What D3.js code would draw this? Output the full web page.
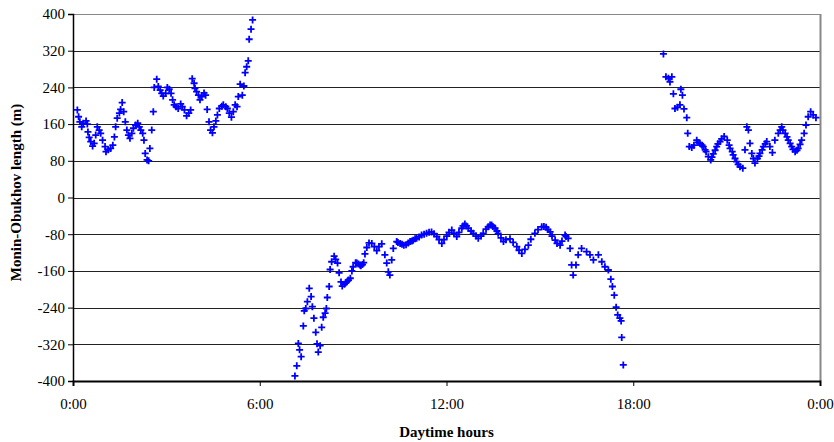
<!DOCTYPE html>
<html>
<head>
<meta charset="utf-8">
<script src="https://cdn.jsdelivr.net/npm/d3@7"></script>
<style>
    body { margin: 0; background: #fff; }
    text { font-family: "Liberation Serif", "Times New Roman", serif; }
</style>
</head>
<body>
<div id="graph-container"></div>
<script>
// Hours of day (decimal) and Monin-Obukhov length (m)
const nightHours = [0.14, 0.18, 0.22, 0.28, 0.33, 0.42, 0.46, 0.48, 0.52, 0.57, 0.63, 0.68, 0.73, 0.78, 0.84, 0.89, 0.95, 1.03, 1.06, 1.13,
    1.21, 1.28, 1.33, 1.37, 1.42, 1.49, 1.53, 1.58, 1.63, 1.68, 1.73, 1.78, 1.83, 1.89, 1.94, 2.01, 2.08, 2.13, 2.18, 2.24,
    2.28, 2.32, 2.38, 2.43, 2.47, 2.53, 2.58, 2.61, 2.69, 2.74, 2.80, 2.85, 2.90, 2.98, 3.03, 3.09, 3.15, 3.20, 3.25, 3.31,
    3.38, 3.46, 3.51, 3.58, 3.65, 3.72, 3.78, 3.83, 3.89, 3.92, 3.97, 4.03, 4.08, 4.14, 4.21, 4.26, 4.31, 4.37, 4.42, 4.48,
    4.53, 4.59, 4.64, 4.70, 4.78, 4.83, 4.91, 4.96, 5.02, 5.09, 5.15, 5.21, 5.27, 5.31, 5.37, 5.44, 5.49, 5.53, 5.58, 5.63,
    5.66, 5.72, 5.77];
const nightLength = [191, 176, 165, 154, 162, 167, 160, 143, 131, 122, 112, 118, 136, 154, 147, 140, 125, 111, 100, 104,
    107, 114, 132, 154, 173, 184, 192, 207, 187, 165, 147, 136, 129, 140, 151, 158, 162, 154, 147, 140,
    125, 96, 82, 80, 107, 147, 187, 240, 258, 242, 234, 227, 221, 227, 240, 236, 227, 213, 202, 198,
    194, 204, 198, 191, 178, 184, 191, 259, 249, 238, 231, 223, 213, 220, 228, 223, 192, 165, 147, 141,
    154, 167, 180, 194, 199, 202, 198, 194, 184, 175, 187, 202, 198, 220, 247, 223, 243, 272, 285, 298,
    345, 367, 387];

const dayHours = [7.13, 7.19, 7.24, 7.28, 7.33, 7.40, 7.43, 7.48, 7.53, 7.59, 7.65, 7.69, 7.74, 7.80, 7.84, 7.88, 7.94, 7.99, 8.04, 8.10,
    8.14, 8.17, 8.23, 8.26, 8.31, 8.39, 8.44, 8.50, 8.55, 8.61, 8.65, 8.72, 8.76, 8.79, 8.85, 8.91, 8.96, 9.00, 9.08, 9.12,
    9.17, 9.22, 9.25, 9.30, 9.34, 9.38, 9.44, 9.51, 9.60, 9.68, 9.76, 9.83, 9.92, 10.02, 10.08, 10.13, 10.18, 10.24, 10.29, 10.40,
    10.44, 10.51, 10.57, 10.63, 10.70, 10.77, 10.83, 10.89, 10.93, 10.99, 11.04, 11.12, 11.20, 11.28, 11.36, 11.44, 11.52, 11.60, 11.69, 11.76,
    11.85, 11.92, 12.01, 12.08, 12.17, 12.24, 12.33, 12.40, 12.49, 12.53, 12.59, 12.64, 12.70, 12.79, 12.86, 12.95, 13.02, 13.11, 13.18, 13.27,
    13.34, 13.40, 13.45, 13.49, 13.56, 13.62, 13.66, 13.75, 13.83, 13.91, 14.04, 14.14, 14.26, 14.33, 14.42, 14.52, 14.63, 14.71, 14.84, 14.94,
    15.06, 15.13, 15.20, 15.26, 15.33, 15.39, 15.49, 15.55, 15.65, 15.71, 15.81, 15.84, 15.91, 15.97, 16.02, 16.07, 16.16, 16.23, 16.34, 16.50,
    16.61, 16.72, 16.88, 16.99, 17.09, 17.20, 17.28, 17.33, 17.39, 17.45, 17.50, 17.57, 17.61, 17.63, 17.68];
const dayLength = [-389, -367, -318, -332, -347, -280, -247, -242, -227, -198, -216, -238, -263, -294, -319, -337, -323, -283, -261, -252,
    -242, -218, -194, -157, -140, -128, -135, -143, -164, -184, -193, -189, -186, -184, -180, -176, -160, -151, -142, -143,
    -145, -147, -149, -146, -142, -123, -109, -99, -100, -107, -116, -107, -101, -125, -143, -162, -169, -136, -111, -96,
    -98, -100, -102, -104, -103, -99, -96, -95, -93, -90, -89, -86, -82, -80, -78, -76, -75, -79, -85, -92,
    -100, -92, -84, -76, -71, -78, -85, -76, -67, -62, -58, -62, -67, -73, -78, -84, -89, -84, -78, -69,
    -64, -60, -60, -63, -67, -73, -78, -88, -96, -92, -90, -98, -107, -115, -122, -113, -104, -91, -78, -70,
    -64, -63, -65, -70, -75, -84, -93, -100, -104, -95, -82, -85, -89, -111, -147, -169, -147, -125, -111, -118,
    -125, -136, -125, -140, -151, -158, -178, -194, -213, -239, -256, -263, -269, -305, -365];

const eveningHours = [18.97, 19.05, 19.13, 19.18, 19.24, 19.29, 19.34, 19.42, 19.50, 19.53, 19.58, 19.63, 19.72, 19.75, 19.80, 19.88, 19.95, 20.04, 20.08, 20.14,
    20.21, 20.25, 20.31, 20.34, 20.41, 20.49, 20.53, 20.57, 20.63, 20.68, 20.72, 20.79, 20.84, 20.92, 21.02, 21.08, 21.11, 21.18, 21.21, 21.27,
    21.32, 21.37, 21.43, 21.52, 21.59, 21.65, 21.70, 21.75, 21.81, 21.86, 21.91, 21.99, 22.04, 22.07, 22.14, 22.18, 22.24, 22.29, 22.39, 22.47,
    22.55, 22.66, 22.72, 22.77, 22.81, 22.88, 22.94, 22.98, 23.04, 23.09, 23.13, 23.20, 23.26, 23.30, 23.36, 23.41, 23.49, 23.55, 23.62, 23.70,
    23.78, 23.87];
const eveningLength = [313, 263, 260, 252, 263, 226, 194, 197, 202, 236, 223, 193, 174, 140, 111, 109, 114, 125, 120, 118,
    114, 111, 104, 100, 89, 82, 88, 95, 103, 111, 117, 122, 128, 133, 125, 114, 107, 100, 93, 85,
    78, 72, 67, 64, 104, 154, 147, 118, 96, 85, 75, 85, 90, 96, 104, 111, 117, 122, 111, 98,
    125, 140, 147, 154, 147, 140, 132, 125, 118, 111, 105, 100, 103, 107, 116, 125, 140, 158, 176, 187,
    180, 174];

const yTicks = [-400, -320, -240, -160, -80, 0, 80, 160, 240, 320, 400];
const xTicks = [0, 6, 12, 18, 24];
const xTickLabels = ["0:00", "6:00", "12:00", "18:00", "0:00"];

// Set dimensions and margins for the chart
const margin = { top: 14, right: 14, bottom: 61, left: 73 };
const width = 834 - margin.left - margin.right;
const height = 442 - margin.top - margin.bottom;

const x = d3.scaleLinear().domain([0, 24]).range([0, width]);
const y = d3.scaleLinear().domain([-400, 400]).range([height, 0]);

const svg = d3.select("#graph-container")
    .append("svg")
    .attr("width", 834)
    .attr("height", 442);

const graph = svg.append("g")
    .attr("transform", `translate(${margin.left}, ${margin.top})`);

// Horizontal gridlines
graph.append("g")
    .selectAll("line")
    .data(yTicks)
    .join("line")
    .attr("x1", 0)
    .attr("x2", width)
    .attr("y1", d => Math.round(y(d)) + 0.5)
    .attr("y2", d => Math.round(y(d)) + 0.5)
    .attr("stroke", d => d === 400 ? "#888" : "#222")
    .attr("stroke-width", 1);

// Right border of plot area
graph.append("line")
    .attr("x1", width + 0.5).attr("x2", width + 0.5)
    .attr("y1", 0).attr("y2", height)
    .attr("stroke", "#888")
    .attr("stroke-width", 2);

// Y axis
const yAxis = graph.append("g")
    .call(d3.axisLeft(y).tickValues(yTicks).tickSize(5).tickPadding(3).tickFormat(d => String(d)));
yAxis.selectAll("text").attr("font-size", 15).attr("fill", "#000").style("font-family", "Liberation Serif, serif");
yAxis.select(".domain").attr("stroke", "#000").attr("stroke-width", 1.5);

// X axis
const xAxis = graph.append("g")
    .attr("transform", `translate(0, ${height})`)
    .call(d3.axisBottom(x).tickValues(xTicks).tickSize(5).tickPadding(12).tickFormat((d, i) => xTickLabels[i]));
xAxis.selectAll("text").attr("font-size", 15).attr("fill", "#000").style("font-family", "Liberation Serif, serif");
xAxis.select(".domain").attr("stroke", "#000").attr("stroke-width", 2);

// Axis labels
svg.append("text")
    .attr("text-anchor", "middle")
    .attr("x", margin.left + width / 2)
    .attr("y", 437)
    .attr("font-size", 15)
    .attr("font-weight", "bold")
    .text("Daytime hours");

svg.append("text")
    .attr("text-anchor", "middle")
    .attr("transform", `translate(21, ${margin.top + height / 2 - 5}) rotate(-90)`)
    .attr("font-size", 15)
    .attr("font-weight", "bold")
    .text("Monin-Obukhov length (m)");

// Scatter of plus markers
const points = [
    ...nightHours.map((h, i) => ({ hour: h, length: nightLength[i] })),
    ...dayHours.map((h, i) => ({ hour: h, length: dayLength[i] })),
    ...eveningHours.map((h, i) => ({ hour: h, length: eveningLength[i] }))
];

graph.append("g")
    .selectAll("path")
    .data(points)
    .join("path")
    .attr("transform", d => `translate(${x(d.hour)}, ${y(d.length)})`)
    .attr("d", "M-3.5,0H3.5M0,-3.5V3.5")
    .attr("stroke", "#0000ff")
    .attr("stroke-width", 1.8)
    .attr("fill", "none");
</script>
</body>
</html>
